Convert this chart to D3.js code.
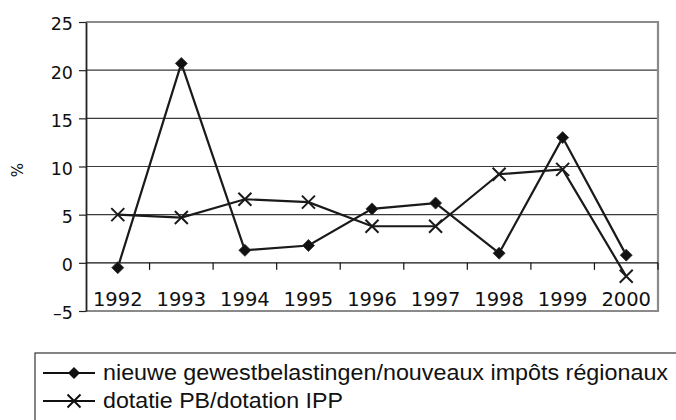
<!DOCTYPE html>
<html><head><meta charset="utf-8">
<script src="https://cdn.jsdelivr.net/npm/d3@7"></script>
<style>body{margin:0;background:#fff}svg{display:block}</style>
</head><body>
<script>
const years = ["1992","1993","1994","1995","1996","1997","1998","1999","2000"];
const nieuwe = [-0.5, 20.7, 1.3, 1.8, 5.6, 6.2, 1.0, 13.0, 0.8];
const dotatie = [5.0, 4.7, 6.6, 6.3, 3.8, 3.8, 9.2, 9.7, -1.4];
const yTicks = [-5, 0, 5, 10, 15, 20, 25];
const seriesNames = ["nieuwe gewestbelastingen/nouveaux impôts régionaux", "dotatie PB/dotation IPP"];

const W = 676, H = 420;
const L = 86, R = 658, T = 22, B = 311;
const svg = d3.select("body").append("svg").attr("width", W).attr("height", H);
const x = d3.scaleBand().domain(years).range([L, R]);
const y = d3.scaleLinear().domain([-5, 25]).range([B, T]);

// gridlines
svg.append("g").selectAll("line").data(yTicks.filter(v => v !== -5 && v !== 25 && v !== 0)).join("line")
  .attr("x1", L).attr("x2", R).attr("y1", d => y(d)).attr("y2", d => y(d))
  .attr("stroke", "#3a3a3a").attr("stroke-width", 1.2);

// grey frame (top, right, bottom)
svg.append("path").attr("d", `M${L},${T}H${R}V${B}H${L}`).attr("fill", "none")
  .attr("stroke", "#8a8a8a").attr("stroke-width", 2.2);

// y axis
const yAxis = d3.axisLeft(y).tickValues(yTicks).tickSize(7).tickSizeOuter(0)
  .tickFormat(d => d < 0 ? "\u2013" + Math.abs(d) : d);
const gy = svg.append("g").attr("transform", `translate(${L},0)`).call(yAxis);
gy.select(".domain").attr("stroke", "#222").attr("stroke-width", 1.8);
gy.selectAll(".tick line").attr("stroke", "#222").attr("stroke-width", 1.2);
gy.selectAll(".tick text").attr("font-family", "DejaVu Sans").attr("font-size", 17.5)
  .attr("fill", "#111").attr("x", -13).attr("dy", "0.45em");

// zero line with ticks between categories
const gx = svg.append("g").attr("transform", `translate(0,${y(0)})`);
gx.append("line").attr("x1", L).attr("x2", R).attr("stroke", "#111").attr("stroke-width", 1.3);
gx.selectAll("line.tk").data(years.slice(1).concat(["end"])).join("line").attr("class", "tk")
  .attr("x1", (d, i) => L + x.step() * (i + 1)).attr("x2", (d, i) => L + x.step() * (i + 1))
  .attr("y1", 0).attr("y2", 7).attr("stroke", "#111").attr("stroke-width", 1.2);

// x labels near bottom
svg.append("g").selectAll("text").data(years).join("text")
  .attr("x", d => x(d) + x.bandwidth() / 2).attr("y", 306)
  .attr("text-anchor", "middle").attr("font-family", "DejaVu Sans").attr("font-size", 19.5)
  .attr("fill", "#111").text(d => d);

// y title
svg.append("text").attr("transform", "translate(23,170) rotate(-90)")
  .attr("text-anchor", "middle").attr("font-family", "DejaVu Sans").attr("font-size", 15)
  .attr("fill", "#111").text("%");

const line = d3.line().x((d, i) => x(years[i]) + x.bandwidth() / 2).y(d => y(d));
const cx = i => x(years[i]) + x.bandwidth() / 2;

svg.append("path").datum(dotatie).attr("d", line).attr("fill", "none")
  .attr("stroke", "#1a1a1a").attr("stroke-width", 2.2);
svg.append("path").datum(nieuwe).attr("d", line).attr("fill", "none")
  .attr("stroke", "#1a1a1a").attr("stroke-width", 2.2);

const diamond = d3.symbol().type(d3.symbolSquare).size(72);
svg.append("g").selectAll("path").data(nieuwe).join("path")
  .attr("d", diamond).attr("transform", (d, i) => `translate(${cx(i)},${y(d)}) rotate(45)`)
  .attr("fill", "#111").attr("stroke", "#333").attr("stroke-width", 0.8);

const cr = 6.5;
svg.append("g").selectAll("path").data(dotatie).join("path")
  .attr("d", (d, i) => `M${cx(i)-cr},${y(d)-cr}L${cx(i)+cr},${y(d)+cr}M${cx(i)-cr},${y(d)+cr}L${cx(i)+cr},${y(d)-cr}`)
  .attr("stroke", "#1a1a1a").attr("stroke-width", 2).attr("fill", "none");

// legend
const lg = svg.append("g");
lg.append("rect").attr("x", 35).attr("y", 353).attr("width", 660).attr("height", 80)
  .attr("fill", "#fff").attr("stroke", "#333").attr("stroke-width", 1.2);
const rows = [373, 401];
rows.forEach((ry, i) => {
  lg.append("line").attr("x1", 43).attr("x2", 95).attr("y1", ry).attr("y2", ry)
    .attr("stroke", "#111").attr("stroke-width", 2.2);
  if (i === 0) {
    lg.append("path").attr("d", diamond).attr("transform", `translate(74,${ry}) rotate(45)`).attr("fill", "#111");
  } else {
    lg.append("path").attr("d", `M${74-cr},${ry-cr}L${74+cr},${ry+cr}M${74-cr},${ry+cr}L${74+cr},${ry-cr}`)
      .attr("stroke", "#111").attr("stroke-width", 2);
  }
  lg.append("text").attr("x", 103).attr("y", ry + 7).attr("font-family", "Liberation Sans")
    .attr("font-size", 21.5).attr("fill", "#111")
    .attr("textLength", i === 0 ? 565 : 240).attr("lengthAdjust", "spacingAndGlyphs")
    .text(seriesNames[i]);
});
</script>
</body></html>
